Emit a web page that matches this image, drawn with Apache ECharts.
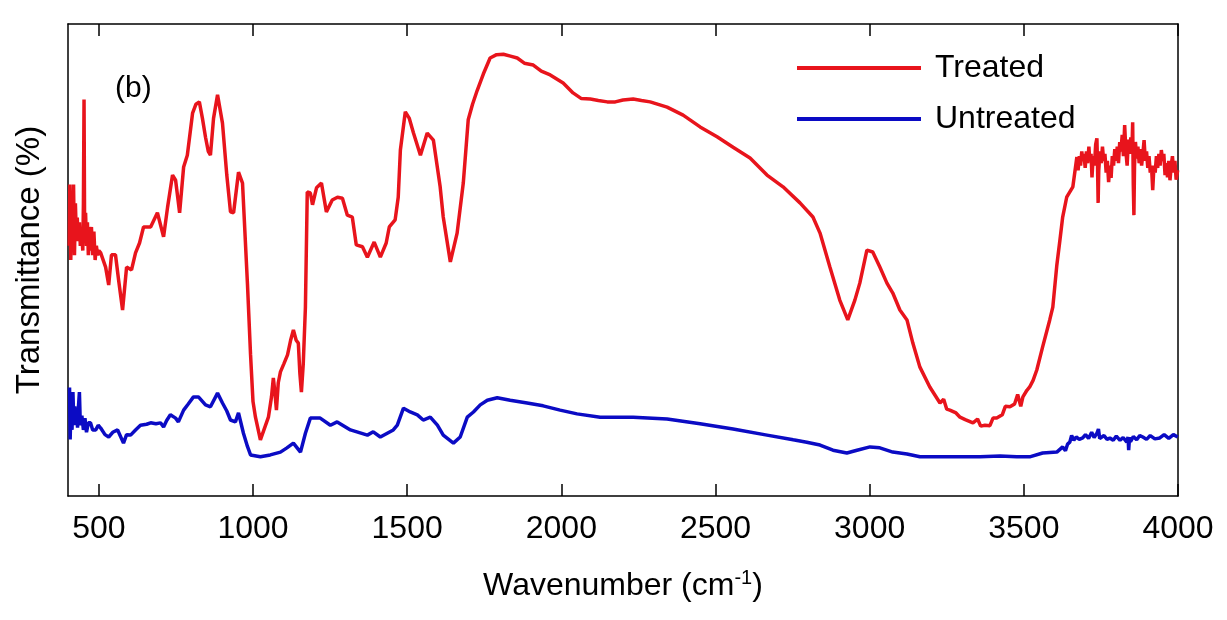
<!DOCTYPE html>
<html>
<head>
<meta charset="utf-8">
<script src="https://cdn.jsdelivr.net/npm/echarts@6/dist/echarts.min.js"></script>
<style>
  html, body { margin: 0; padding: 0; background: #fff; }
  #chart { width: 1227px; height: 620px; }
</style>
</head>
<body>
<div id="chart"></div>
<script>
// [wavenumber (cm-1), transmittance (arbitrary %)]
const treated = [
  [404,53],[406,66],[409,50],[412,60],[415,54],[418,66],[421,51],[424,62],[427,55],[430,59],[433,54],[437,58],[440,53],[444,56],[448,52],[450,62],[452,84],[454,55],[457,60],[460,53],[463,58],[466,51],[469,57],[472,52],[476,57],[480,51],[484,56],[488,50],[492,53],[496,51],[500,52],
  [506,51.5],[522,48.5],[532,44.7],[541,51.1],[554,51.1],[564,45.8],[577,39.4],[590,48.5],[606,47.9],[619,51.5],[632,53.6],[645,57],[668,57],[690,60],[710,54.9],[723,61.2],[739,68],[749,66.9],[762,60],[775,69.7],[787,72.2],[804,81.1],[815,83],[826,83.5],[836,80],[846,76],[855,73],[862,72.2],[872,80],[885,85],[901,79],[915,68],[927,60.2],[937,60],[953,68.6],[966,66.3],[982,45],[992,30],[1000,20],[1008,16.7],[1024,11.9],
  [1038,14.5],[1050,16.7],[1060,21],[1066,25],[1071,22],[1076,18.2],[1082,24],[1089,26.3],[1100,28],[1112,29.9],[1122,33],[1131,35.2],[1140,33],[1147,32.4],[1152,26],[1157,22],[1163,28],[1170,40],
  [1176,64.4],[1186,64.2],[1193,61.7],[1206,65.3],[1222,66.3],[1238,60.2],[1257,62.7],[1274,63.3],[1290,63.1],[1306,59.5],[1322,59.1],[1335,53.2],[1355,52.8],[1371,50.6],[1393,53.8],[1413,50.6],[1432,53.6],[1442,57],[1461,58.5],[1471,63.3],[1478,73.3],[1494,81.4],
  [1507,80],[1520,77],[1543,72.2],[1565,76.9],[1585,75.4],[1607,65.5],[1617,59.1],[1640,49.6],[1662,55.7],[1682,66.3],[1698,79.7],[1712,83],[1727,85.9],[1747,89.4],[1769,92.8],[1790,93.5],[1812,93.6],[1835,93.2],[1857,92.8],[1880,91.7],[1909,91.3],[1935,90],[1964,89.2],[2006,87.5],[2038,85.4],[2065,84.2],[2094,84.1],[2120,83.8],[2149,83.5],[2175,83.5],[2200,83.9],[2233,84.1],[2260,83.8],[2288,83.5],[2343,82.4],[2395,80.7],[2450,78.2],[2505,76.1],[2557,73.9],[2612,71.6],[2667,68],[2719,65.5],[2774,62.1],[2816,59.1],[2839,55.7],[2871,48.5],[2903,41.5],[2929,37.3],[2952,41.5],[2968,45.1],[2991,52.1],[3010,51.7],[3033,48.5],[3056,45.1],[3075,43],[3098,39.4],[3121,37.3],[3140,32.4],[3163,27.3],[3195,23.1],[3228,19.7],[3240,20.5],[3250,18.4],[3260,18.2],[3280,17.6],[3293,16.7],[3310,16.2],[3335,15.5],[3350,16.3],[3360,14.8],[3374,15],[3390,14.9],[3400,16.5],[3412,16.5],[3430,17.2],[3440,19],[3455,18.9],[3470,19.5],[3480,21.5],[3490,19],[3497,21],[3510,22.4],[3519,23.1],[3530,24.5],[3542,26.7],[3561,31.6],[3584,37.3],[3594,40],[3607,48.9],[3617,54.2],[3626,59.1],[3639,63.3],[3659,65.5],
  [3672,71.8],[3676,69],[3680,72],[3684,70],[3688,73],[3691,71],[3695,72.5],[3699,69.5],[3703,73],[3707,70.5],[3711,74],[3714,71],[3718,72.5],[3721,67.5],[3725,72],[3729,70],[3733,74.5],[3737,75.8],[3739,70],[3741,62.1],[3743,69],[3747,73],[3751,70.5],[3755,74],[3759,71],[3763,72.5],[3767,68.5],[3771,71],[3775,66.5],[3779,70],[3783,67.4],[3787,72],[3791,70],[3795,73.5],[3799,71],[3803,74],[3807,70.5],[3811,75],[3815,73],[3819,76.5],[3823,72],[3827,78.6],[3831,73],[3835,70],[3839,75.5],[3843,72.5],[3847,76],[3851,74],[3853,79.2],[3855,66],[3857,59.5],[3859,70],[3862,75],[3866,71.5],[3870,74],[3874,70.5],[3878,73.5],[3882,70],[3886,72.5],[3890,75.4],[3894,71],[3898,73],[3902,69.5],[3906,72],[3910,68.5],[3914,70],[3918,64.8],[3922,70],[3926,68.5],[3930,72],[3934,69.5],[3938,72.5],[3942,70],[3946,73.3],[3950,71],[3954,72.5],[3958,68],[3962,70.5],[3966,67.5],[3970,71],[3974,66.9],[3978,70],[3982,72],[3986,68.5],[3990,71],[3994,67],[3999,69]
];

const untreated = [
  [405,23],[407,12],[410,20],[413,14],[416,22],[419,15],[422,19],[425,16],[428,18],[431,14.5],[434,19],[437,22],[440,15],[445,17],[450,14],[455,16.5],[460,13.5],[466,15.5],[473,15.5],[480,14],[490,14],[498,15],[506,14.4],[520,13],[532,12.5],[545,13.5],[561,14],
  [580,11.2],[590,13],[603,12.9],[619,14],[635,15],[655,15.2],[668,15.5],[685,15.3],[700,15.5],[710,14.6],[720,16],[732,17.2],[749,16.5],[758,15.7],[775,18.2],[790,19.5],[807,21],[823,21],[846,19.3],[862,18.9],[885,21.8],[901,19.7],[915,18],[927,16.1],[943,15.7],[953,17.6],[969,13.3],[982,10.5],[992,8.7],[1024,8.3],
  [1056,8.7],[1089,9.3],[1110,10.2],[1131,11.2],[1154,9.3],[1170,13.3],[1186,16.5],[1218,16.5],[1251,15],[1273,15.7],[1316,14],[1371,12.9],[1390,13.6],[1413,12.5],[1455,14],[1468,15],[1488,18.6],[1510,17.8],[1533,17.2],[1552,16.1],[1575,16.7],[1598,15],[1617,12.9],[1650,11.2],[1672,12.5],[1695,16.7],[1715,17.8],[1737,19.3],[1760,20.3],[1792,20.8],[1834,20.3],[1889,19.7],[1941,19.1],[1996,18.2],[2051,17.4],[2126,16.7],[2233,16.7],[2343,16.3],[2450,15.3],[2557,14.2],[2667,12.9],[2752,11.9],[2796,11.4],[2839,10.8],[2881,9.7],[2926,9.1],[2959,9.7],[3001,10.4],[3033,10.2],[3075,9.3],[3121,8.9],[3163,8.3],[3228,8.3],[3293,8.3],[3358,8.3],[3423,8.5],[3477,8.3],[3519,8.3],[3561,9.1],[3607,9.3],
  [3626,10.4],[3635,9.6],[3642,11],[3649,11.4],[3655,12.8],[3662,11.8],[3670,12.5],[3680,12],[3691,12.3],[3700,13],[3710,12.2],[3720,13.5],[3728,12.4],[3737,13.3],[3742,14.2],[3746,12.2],[3750,12],[3760,12.8],[3770,12],[3779,12.3],[3790,11.8],[3800,12.7],[3812,11.8],[3822,12.4],[3834,11.4],[3838,12.5],[3840,9.7],[3843,12.5],[3846,11.5],[3855,12.6],[3866,11.9],[3876,12.8],[3886,12.5],[3898,12],[3910,12.8],[3925,12.1],[3941,12.3],[3955,13],[3970,12.2],[3985,13],[3999,12.5]
];

const xTicks = [500, 1000, 1500, 2000, 2500, 3000, 3500, 4000];

const font = "'Liberation Sans', Arial, sans-serif";

var myChart = echarts.init(document.getElementById("chart"));
var option = {
  animation: false,
  textStyle: { fontFamily: font },
  title: {
    text: "(b)",
    left: 110,
    top: 69,
    textStyle: { fontFamily: font, fontSize: 30, fontWeight: "normal", color: "#000" },
  },
  grid: { left: 68, right: 49, top: 24, bottom: 124 },
  legend: {
    orient: "vertical",
    left: 797,
    top: 52,
    padding: 0,
    itemWidth: 124,
    itemHeight: 4,
    itemGap: 19,
    icon: "rect",
    textStyle: { fontFamily: font, fontSize: 32, color: "#000", padding: [0, 0, 0, 9] },
    data: ["Treated", "Untreated"],
  },
  xAxis: [
    {
      type: "value",
      min: 400,
      max: 4000,
      name: "Wavenumber (cm{sup|-1})",
      nameLocation: "middle",
      nameGap: 72,
      nameTextStyle: {
        fontFamily: font,
        fontSize: 32,
        color: "#000",
        rich: { sup: { fontSize: 20, verticalAlign: "top", lineHeight: 36, fontFamily: font, color: "#000" } },
      },
      axisLine: { onZero: false, lineStyle: { color: "#000", width: 1.5 } },
      axisTick: { inside: true, length: 12, customValues: xTicks, lineStyle: { color: "#000", width: 1.5 } },
      axisLabel: {
        customValues: xTicks,
        margin: 17,
        fontFamily: font,
        fontSize: 32,
        color: "#000",
        formatter: function (v) { return String(v); },
      },
      splitLine: { show: false },
    },
    {
      type: "value",
      position: "top",
      min: 400,
      max: 4000,
      axisLine: { onZero: false, lineStyle: { color: "#000", width: 1.5 } },
      axisTick: { inside: true, length: 12, customValues: xTicks, lineStyle: { color: "#000", width: 1.5 } },
      axisLabel: { show: false },
      splitLine: { show: false },
    },
  ],
  yAxis: [
    {
      type: "value",
      min: 0,
      max: 100,
      name: "Transmittance (%)",
      nameLocation: "middle",
      nameGap: 22,
      nameTextStyle: { fontFamily: font, fontSize: 33, color: "#000" },
      axisLine: { show: true, onZero: false, lineStyle: { color: "#000", width: 1.5 } },
      axisTick: { show: false },
      axisLabel: { show: false },
      splitLine: { show: false },
    },
    {
      type: "value",
      position: "right",
      min: 0,
      max: 100,
      axisLine: { show: true, onZero: false, lineStyle: { color: "#000", width: 1.5 } },
      axisTick: { show: false },
      axisLabel: { show: false },
      splitLine: { show: false },
    },
  ],
  series: [
    {
      name: "Treated",
      type: "line",
      data: treated,
      showSymbol: false,
      color: "#e8141c",
      lineStyle: { width: 3.5, color: "#e8141c" },
    },
    {
      name: "Untreated",
      type: "line",
      data: untreated,
      showSymbol: false,
      color: "#0b0bc4",
      lineStyle: { width: 3.5, color: "#0b0bc4" },
    },
  ],
};
option && myChart.setOption(option);
window.addEventListener("resize", function () {
  myChart.resize();
});
</script>
</body>
</html>
